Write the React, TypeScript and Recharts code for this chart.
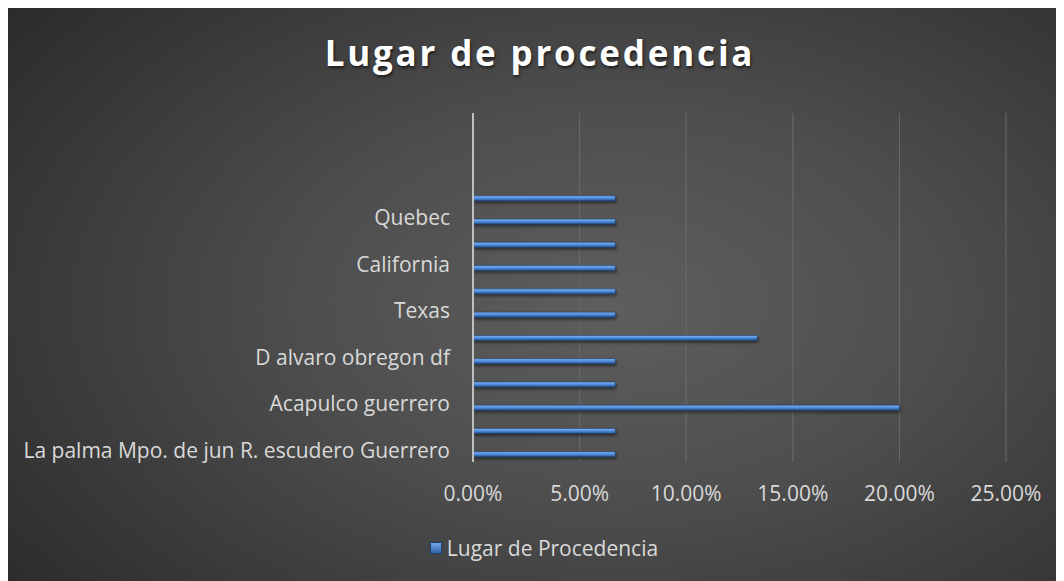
// @ts-nocheck
import React from 'react';
import { BarChart, Bar, XAxis, YAxis, CartesianGrid, Legend } from 'recharts';

// categories top to bottom (only every other one carries a visible label)
const places = ['', '', '', '', 'Quebec', '', 'California', '', 'Texas', '', 'D alvaro obregon df', '', 'Acapulco guerrero', '', 'La palma Mpo. de jun R. escudero Guerrero'];
const shares = [null, null, null, 0.0667, 0.0667, 0.0667, 0.0667, 0.0667, 0.0667, 0.1333, 0.0667, 0.0667, 0.2, 0.0667, 0.0667];
const pctTicks = [0, 0.05, 0.1, 0.15, 0.2, 0.25];

const data = places.map((place, i) => ({ place, share: shares[i] }));

const FONT = '"Open Sans", sans-serif';
const LABEL = '#d9d9d9';

const LegendContent = () => (
    <div style={{ display: 'flex', alignItems: 'center', justifyContent: 'center', height: 20, paddingLeft: 16, fontFamily: FONT, fontSize: 21, color: LABEL }}>
        <span style={{ width: 12, height: 12, marginRight: 5, background: 'linear-gradient(#79aef0, #2c5b9c)', boxShadow: 'inset 0 0 0 1px #1d3f70' }} />
        <span>Lugar de Procedencia</span>
    </div>
);

export default function App() {
    return (
        <div
            style={{
                position: 'relative',
                width: 1056,
                height: 575,
                marginTop: -2,
                fontFamily: FONT,
                background: 'radial-gradient(ellipse 75% 85% at 58% 52%, #5e5e5e 0%, #4e4e4e 40%, #2a2a2a 100%)',
            }}
        >
            <div style={{ position: 'absolute', top: 23, left: 4, width: 1056, textAlign: 'center', color: '#ffffff', fontSize: 35, fontWeight: 700, letterSpacing: 2.8, textShadow: '1px 2px 3px rgba(0,0,0,0.6)' }}>
                Lugar de procedencia
            </div>
            <BarChart
                width={1056}
                height={575}
                data={data}
                layout="vertical"
                margin={{ top: 107, right: 58, left: 0, bottom: 23 }}
                barGap={3}
                style={{ position: 'absolute', top: 0, left: 0 }}
            >
                <defs>
                    <linearGradient id="barFill" x1="0" y1="0" x2="0" y2="1">
                        <stop offset="0" stopColor="#86b8f5" />
                        <stop offset="0.5" stopColor="#4f8cdc" />
                        <stop offset="1" stopColor="#285594" />
                    </linearGradient>
                    <filter id="barShadow" x="-5%" y="-100%" width="110%" height="400%">
                        <feDropShadow dx="1" dy="2" stdDeviation="1.5" floodColor="#000" floodOpacity="0.5" />
                    </filter>
                </defs>
                <CartesianGrid horizontal={false} stroke="#6b6b6b" strokeWidth={1} />
                <XAxis
                    type="number"
                    domain={[0, 0.25]}
                    ticks={pctTicks}
                    tickFormatter={(v) => `${(v * 100).toFixed(2)}%`}
                    axisLine={false}
                    tickLine={false}
                    tickSize={0}
                    tickMargin={24}
                    height={76}
                    tick={{ fill: LABEL, fontSize: 21, fontFamily: FONT }}
                />
                <YAxis
                    type="category"
                    dataKey="place"
                    width={465}
                    interval={1}
                    tickLine={false}
                    tickSize={0}
                    tickMargin={23}
                    axisLine={{ stroke: '#bfbfbf', strokeWidth: 2 }}
                    tick={{ fill: LABEL, fontSize: 21, fontFamily: FONT }}
                />
                <Legend verticalAlign="bottom" content={<LegendContent />} wrapperStyle={{ left: 0, width: 1056 }} />
                {/* empty companion series, keeps the real bar in the lower half of each band like the original */}
                <Bar dataKey="gap" barSize={5} isAnimationActive={false} legendType="none" />
                <Bar dataKey="share" name="Lugar de Procedencia" barSize={5} fill="url(#barFill)" stroke="#1d3f70" strokeWidth={0.6} filter="url(#barShadow)" isAnimationActive={false} />
            </BarChart>
        </div>
    );
}
